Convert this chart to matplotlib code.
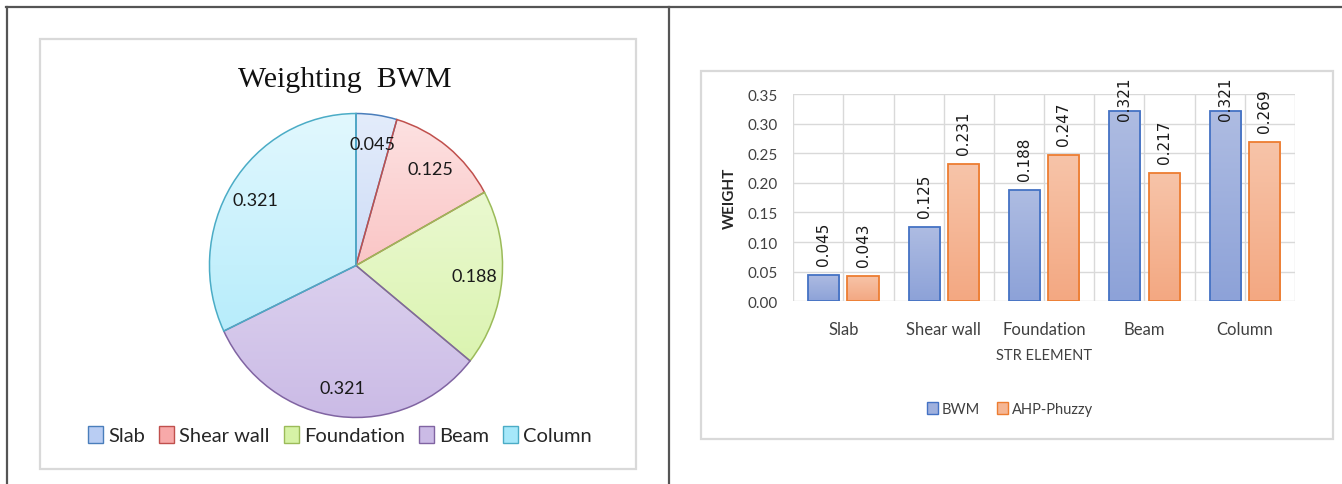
import numpy as np
import matplotlib
matplotlib.use('Agg')
import matplotlib.pyplot as plt
from matplotlib.patches import Rectangle, Patch
from matplotlib.lines import Line2D

# data
elements = ['Slab', 'Shear wall', 'Foundation', 'Beam', 'Column']
bwm = [0.045, 0.125, 0.188, 0.321, 0.321]
ahp = [0.043, 0.231, 0.247, 0.217, 0.269]
yticks = [0.00, 0.05, 0.10, 0.15, 0.20, 0.25, 0.30, 0.35]

# pie colours (top / bottom of gradient, edge)
pie_top = ['#e3ecfb', '#fde2e2', '#f1fbdf', '#ece6f6', '#e2f8fe']
pie_bot = ['#b9cdf3', '#f7a9a9', '#d6f2a6', '#cbbbe6', '#a6e8fa']
pie_edge = ['#4a7ebb', '#c0504d', '#9bbb59', '#8064a2', '#4bacc6']

W, H = 1342, 485


def fx(px):
    return px / W


def fy(py):
    return 1 - py / H


def gradient_fill(ax, patch, extent, ctop, cbot, z):
    c1 = np.array(matplotlib.colors.to_rgb(ctop))
    c2 = np.array(matplotlib.colors.to_rgb(cbot))
    t = np.linspace(0, 1, 64)[:, None]
    img = (c1 * (1 - t) + c2 * t)[:, None, :]
    im = ax.imshow(img, extent=extent, aspect='auto', origin='upper',
                   zorder=z, interpolation='bilinear')
    im.set_clip_path(patch)


fig = plt.figure(figsize=(W / 100, H / 100), dpi=100)
fig.patch.set_facecolor('white')

# page borders
dark = '#555555'
fig.add_artist(Line2D([fx(6), 1], [fy(7.5), fy(7.5)], transform=fig.transFigure, color=dark, lw=1.6))
fig.add_artist(Line2D([fx(7), fx(7)], [fy(7.5), 0], transform=fig.transFigure, color=dark, lw=1.6))
fig.add_artist(Line2D([fx(669), fx(669)], [fy(7.5), 0], transform=fig.transFigure, color=dark, lw=1.6))

# chart frames
frame = '#d9d9d9'
fig.add_artist(Rectangle((fx(40), fy(470)), fx(596), (470 - 40) / H, transform=fig.transFigure,
                         fill=False, edgecolor=frame, lw=1.6))
fig.add_artist(Rectangle((fx(701), fy(440)), fx(632), (440 - 72) / H, transform=fig.transFigure,
                         fill=False, edgecolor=frame, lw=1.6))

# ---------- pie ----------
axp = fig.add_axes([fx(208), fy(420), fx(296), (420 - 113) / H])
wedges, _, autotexts = axp.pie(bwm, startangle=90, counterclock=False, radius=1,
                               autopct=lambda p: f'{p / 100:.3f}', pctdistance=0.81,
                               wedgeprops=dict(linewidth=1.1),
                               textprops=dict(family='Lato', fontsize=13, color='#1a1a1a'))
for i, w in enumerate(wedges):
    w.set_edgecolor(pie_edge[i])
    w.set_facecolor('none')
    w.set_zorder(3)
    gradient_fill(axp, w, (-1, 1, -1, 1), pie_top[i], pie_bot[i], 1)
for t in autotexts:
    t.set_zorder(5)
axp.set_xlim(-1.01, 1.01)
axp.set_ylim(-1.01, 1.01)
axp.set_aspect('auto')
axp.axis('off')

fig.text(fx(344.5), fy(80), 'Weighting  BWM', family='Liberation Serif', fontsize=21.5,
         ha='center', va='center', color='#111111')

pie_handles = [Patch(facecolor=pie_bot[i], edgecolor=pie_edge[i], lw=1.0) for i in range(5)]
fig.legend(pie_handles, elements, loc='center', bbox_to_anchor=(fx(340), fy(436)), ncol=5,
           frameon=False, prop=dict(family='Lato', size=14.5), handlelength=0.75, handleheight=0.9,
           handletextpad=0.25, columnspacing=0.7, labelcolor='#262626')

# ---------- bars ----------
axb = fig.add_axes([fx(793.3), fy(302.3), fx(1295 - 793.3), (302.3 - 95) / H])
x = np.arange(len(elements))
bw = 0.31
off = 0.195
b1 = axb.bar(x - off, bwm, bw, facecolor='none', edgecolor='#4472c4', lw=1.3, zorder=4)
b2 = axb.bar(x + off, ahp, bw, facecolor='none', edgecolor='#ed7d31', lw=1.3, zorder=4)
for r in b1:
    gradient_fill(axb, r, (r.get_x(), r.get_x() + r.get_width(), 0, r.get_height()),
                  '#aebce2', '#8da2d8', 3)
for r in b2:
    gradient_fill(axb, r, (r.get_x(), r.get_x() + r.get_width(), 0, r.get_height()),
                  '#f7c4a9', '#f3a882', 3)

for bars, vals in ((b1, bwm), (b2, ahp)):
    for r, v in zip(bars, vals):
        yb = min(v + 0.017, 0.306)
        axb.text(r.get_x() + r.get_width() / 2, yb, f'{v:.3f}', rotation=90, ha='center',
                 va='bottom', fontsize=11, family='DejaVu Sans', color='#1a1a1a',
                 clip_on=False, zorder=6)

axb.set_xlim(-0.5, 4.5)
axb.set_ylim(0, 0.35)
axb.set_yticks(yticks)
axb.set_yticklabels([f'{v:.2f}' for v in yticks], family='Lato', fontsize=11, color='#404040')
axb.set_xticks(x)
axb.set_xticklabels(elements, family='Lato', fontsize=12, color='#404040')
axb.set_xticks(np.arange(-0.5, 5, 1.0), minor=True)
axb.tick_params(axis='both', which='both', length=0)
axb.tick_params(axis='y', pad=11)
axb.tick_params(axis='x', pad=14)
for s in axb.spines.values():
    s.set_visible(False)
axb.grid(True, axis='y', color='#d9d9d9', lw=1.0, zorder=0)
axb.grid(True, axis='x', which='both', color='#d9d9d9', lw=1.0, zorder=0)
axb.set_axisbelow(True)
axb.set_xlabel('STR ELEMENT', family='Lato', fontsize=10.5, color='#404040', labelpad=8)
axb.set_ylabel('WEIGHT', family='Lato', fontsize=11, fontweight='bold', color='#262626', labelpad=8)

bar_handles = [Patch(facecolor='#9fb0dd', edgecolor='#4472c4', lw=1.0),
               Patch(facecolor='#f5b694', edgecolor='#ed7d31', lw=1.0)]
fig.legend(bar_handles, ['BWM', 'AHP-Phuzzy'], loc='center', bbox_to_anchor=(fx(1010), fy(410)),
           ncol=2, frameon=False, prop=dict(family='Lato', size=10.5), handlelength=0.75,
           handleheight=0.9, handletextpad=0.25, columnspacing=1.2, labelcolor='#404040')

fig.savefig('out.png', dpi=100)
